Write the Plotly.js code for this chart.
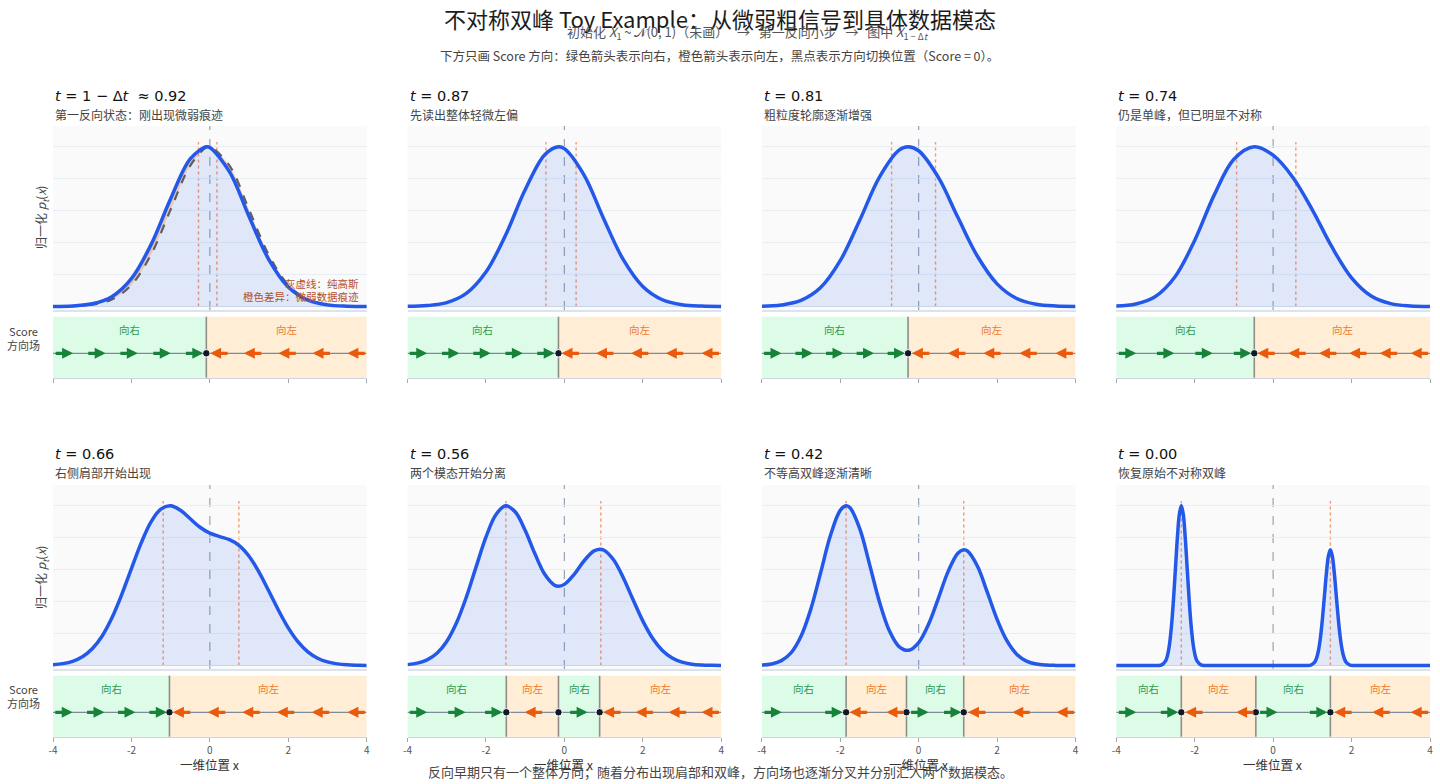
<!DOCTYPE html>
<html><head><meta charset="utf-8">
<script src="https://cdn.plot.ly/plotly-3.0.1.min.js"></script>
<style>html,body{margin:0;padding:0;background:#fff}#chart{width:1440px;height:784px}</style>
</head><body><div id="chart"></div>
<script>
// ---------- data ----------
const panelTitles = ['<i>t</i> = 1 − Δ<i>t</i>  ≈ 0.92','<i>t</i> = 0.87','<i>t</i> = 0.81','<i>t</i> = 0.74','<i>t</i> = 0.66','<i>t</i> = 0.56','<i>t</i> = 0.42','<i>t</i> = 0.00'];
const panelNotes = ['第一反向状态：刚出现微弱痕迹','先读出整体轻微左偏','粗粒度轮廓逐渐增强','仍是单峰，但已明显不对称','右侧肩部开始出现','两个模态开始分离','不等高双峰逐渐清晰','恢复原始不对称双峰'];

// normalized density p_t(x)
const x_092 = [-4,-3.5,-3,-2.5,-2,-1.5,-1,-0.5,-0.09,0,0.5,1,1.5,2,2.5,3,3.5,4];
const p_092 = [0.0006,0.0037,0.0170,0.0615,0.1742,0.3872,0.6750,0.9245,1.0,0.9957,0.8440,0.5631,0.2957,0.1221,0.0397,0.0101,0.0020,0.0003];
const gauss_092 = [0.0003,0.0022,0.0111,0.0439,0.1353,0.3247,0.6065,0.8825,0.9960,1.0,0.8825,0.6065,0.3247,0.1353,0.0439,0.0111,0.0022,0.0003];
const x_087 = [-4,-3.5,-3,-2.5,-2,-1.5,-1,-0.5,-0.15,0,0.5,1,1.5,2,2.5,3,3.5,4];
const p_087 = [0.0010,0.0056,0.0241,0.0816,0.2153,0.4461,0.7303,0.9504,1.0,0.9885,0.8241,0.5512,0.2947,0.1255,0.0423,0.0112,0.0023,0.0004];
const x_081 = [-4,-3.5,-3,-2.5,-2,-1.5,-1,-0.5,-0.27,0,0.5,1,1.5,2,2.5,3,3.5,4];
const p_081 = [0.0017,0.0092,0.0377,0.1183,0.2866,0.5413,0.8100,0.9788,1.0,0.9749,0.8095,0.5582,0.3144,0.1417,0.0502,0.0138,0.0029,0.0005];
const x_074 = [-4,-3.5,-3,-2.5,-2,-1.5,-1,-0.48,0,0.5,1,1.5,2,2.5,3,3.5,4];
const p_074 = [0.0030,0.0160,0.0631,0.1865,0.4138,0.6987,0.9222,1.0,0.9471,0.8095,0.6054,0.3725,0.1794,0.0658,0.0181,0.0037,0.0006];
const x_066 = [-4,-3.75,-3.5,-3.25,-3,-2.75,-2.5,-2.25,-2,-1.75,-1.5,-1.25,-1,-0.75,-0.5,-0.25,0,0.25,0.5,0.75,1,1.25,1.5,1.75,2,2.25,2.5,2.75,3,3.25,3.5,3.75,4];
const p_066 = [0.0047,0.0116,0.0263,0.0546,0.1044,0.1835,0.2970,0.4422,0.6067,0.7679,0.8992,0.9789,0.9995,0.9717,0.9185,0.8654,0.8282,0.8070,0.7875,0.7510,0.6843,0.5864,0.4680,0.3458,0.2357,0.1481,0.0856,0.0456,0.0223,0.0101,0.0042,0.0016,0.0006];
const x_056 = [-4,-3.75,-3.5,-3.25,-3,-2.75,-2.5,-2.25,-2,-1.75,-1.5,-1.25,-1,-0.75,-0.5,-0.25,-0.15,0,0.25,0.5,0.75,0.9,1,1.25,1.5,1.75,2,2.25,2.5,2.75,3,3.25,3.5,3.75,4];
const p_056 = [0.0054,0.0145,0.0351,0.0766,0.1507,0.2676,0.4281,0.6175,0.8034,0.9427,0.9997,0.9611,0.8462,0.6990,0.5712,0.5030,0.4963,0.5078,0.5704,0.6542,0.7161,0.7281,0.7231,0.6636,0.5510,0.4130,0.2791,0.1701,0.0935,0.0463,0.0207,0.0083,0.0030,0.0010,0.0003];
const x_042 = [-4,-3.75,-3.5,-3.25,-3,-2.75,-2.5,-2.25,-2,-1.85,-1.75,-1.5,-1.25,-1,-0.75,-0.5,-0.25,0,0.25,0.5,0.75,1,1.15,1.25,1.5,1.75,2,2.25,2.5,2.75,3,3.25,3.5,3.75,4];
const p_042 = [0.0026,0.0097,0.0303,0.0806,0.1828,0.3529,0.5805,0.8136,0.9712,1.0,0.9876,0.8553,0.6316,0.3984,0.2191,0.1185,0.0953,0.1436,0.2572,0.4191,0.5876,0.7024,0.7241,0.7155,0.6210,0.4590,0.2891,0.1550,0.0708,0.0276,0.0091,0.0026,0.0006,0.0001,0.0000];
const x_000 = [-4,-3.5,-3.1,-2.94,-2.84,-2.74,-2.69,-2.64,-2.59,-2.54,-2.49,-2.44,-2.39,-2.34,-2.29,-2.24,-2.19,-2.14,-2.09,-2.04,-1.99,-1.94,-1.84,-1.74,-1.5,-0.5,0.5,0.86,0.96,1.06,1.11,1.16,1.21,1.26,1.31,1.36,1.41,1.46,1.51,1.56,1.61,1.66,1.71,1.76,1.81,1.86,1.96,2.06,2.3,3,4];
const p_000 = [0,0,0,0.0003,0.0039,0.0286,0.0657,0.1353,0.2494,0.4111,0.6065,0.8007,0.9460,1.0,0.9460,0.8007,0.6065,0.4111,0.2494,0.1353,0.0657,0.0286,0.0039,0.0003,0,0,0,0.0002,0.0028,0.0207,0.0476,0.0980,0.1806,0.2977,0.4392,0.5798,0.6850,0.7241,0.6850,0.5798,0.4392,0.2977,0.1806,0.0980,0.0476,0.0207,0.0028,0.0002,0,0,0];

// scaled data-mode positions (orange dotted)
const modes_092 = [-0.29,0.18], modes_087 = [-0.47,0.30], modes_081 = [-0.69,0.43], modes_074 = [-0.93,0.58];
const modes_066 = [-1.19,0.74], modes_056 = [-1.49,0.93], modes_042 = [-1.85,1.15], modes_000 = [-2.34,1.46];

// score zero crossings
const zeros_092 = [-0.09], zeros_087 = [-0.15], zeros_081 = [-0.27], zeros_074 = [-0.48];
const zeros_066 = [-1.03], zeros_056 = [-1.48,-0.15,0.90], zeros_042 = [-1.85,-0.31,1.15], zeros_000 = [-2.34,-0.44,1.46];

// arrow centres (right = green, left = orange)
const right_092 = [-3.73,-2.90,-2.08,-1.24,-0.41], left_092 = [0.25,1.11,1.99,2.86,3.75];
const right_087 = [-3.74,-2.92,-2.12,-1.30,-0.49], left_087 = [0.17,1.05,1.94,2.83,3.74];
const right_081 = [-3.74,-2.94,-2.16,-1.38,-0.59], left_081 = [0.07,0.99,1.89,2.81,3.73];
const right_074 = [-3.73,-2.76,-1.78,-0.80], left_074 = [-0.16,0.63,1.41,2.18,2.96,3.75];
const right_066 = [-3.74,-2.93,-2.14,-1.34], left_066 = [-0.70,0.19,1.07,1.95,2.84,3.75];
const right_056 = [-3.74,-2.76,-1.82,0.35], left_056 = [-0.77,1.23,2.06,2.90,3.74];
const right_042 = [-3.73,-2.18,0.01,0.85], left_042 = [-1.52,-0.58,1.50,2.63,3.76];
const right_000 = [-3.73,-2.66,-0.13,1.14], left_000 = [-2.00,-0.70,1.80,2.77,3.75];

const tickVals = [-4,-2,0,2,4];
const tickText = ['-4','-2','0','2','4'];

// ---------- build ----------
const XS = [x_092,x_087,x_081,x_074,x_066,x_056,x_042,x_000];
const PS = [p_092,p_087,p_081,p_074,p_066,p_056,p_042,p_000];
const MODES = [modes_092,modes_087,modes_081,modes_074,modes_066,modes_056,modes_042,modes_000];
const ZEROS = [zeros_092,zeros_087,zeros_081,zeros_074,zeros_066,zeros_056,zeros_042,zeros_000];
const RIGHTS = [right_092,right_087,right_081,right_074,right_066,right_056,right_042,right_000];
const LEFTS = [left_092,left_087,left_081,left_074,left_066,left_056,left_042,left_000];

const W = 1440, H = 784;
const colPx = [[53,366.7],[407.5,721.2],[761.8,1075.5],[1116.2,1430]];
const densPx = [[126,310],[485,669]];
const scorePx = [[316.7,377.7],[675.7,736.7]];
const py = p => 1 - p / H;
const ARROW_Y = -0.2, HALF = 0.24;
const BLUE = '#2358e8', GREEN = '#17823a', ORANGE = '#ea5a0c';
const FONT = '"Noto Sans CJK SC", "Noto Sans", sans-serif';

const traces = [], shapes = [], annotations = [];
const layout = {
  width: W, height: H, autosize: false,
  margin: {l:0, r:0, t:0, b:0},
  paper_bgcolor: '#ffffff', plot_bgcolor: '#fafafa',
  showlegend: false,
  font: {family: FONT, color: '#333'},
  title: {text: '不对称双峰 Toy Example：从微弱粗信号到具体数据模态', x: 0.5, xanchor: 'center', xref: 'paper',
          y: py(20), yanchor: 'middle', yref: 'paper', font: {size: 22, color: '#1c1c1c', family: FONT}},
};

for (let i = 0; i < 8; i++) {
  const c = i % 4, r = Math.floor(i / 4);
  const dx = 'x' + (i + 1), dy = 'y' + (i + 1);
  const sx = 'x' + (i + 9), sy = 'y' + (i + 9);
  const dom = [colPx[c][0] / W, colPx[c][1] / W];
  layout['xaxis' + (i + 1)] = {domain: dom, anchor: dy, range: [-4, 4], showticklabels: false, ticks: '',
    showgrid: false, zeroline: false, showline: true, linecolor: '#dde3ec', linewidth: 1.5, fixedrange: true};
  layout['yaxis' + (i + 1)] = {domain: [py(densPx[r][1]), py(densPx[r][0])], anchor: dx, range: [-0.022, 1.13],
    tickvals: [0, 0.2, 0.4, 0.6, 0.8, 1.0], showticklabels: false, ticks: '', showgrid: true, gridcolor: '#e9edf4',
    zeroline: true, zerolinecolor: '#d3dbe8', zerolinewidth: 1.5, showline: false, fixedrange: true};
  layout['xaxis' + (i + 9)] = {domain: dom, anchor: sy, range: [-4, 4], tickvals: tickVals, ticktext: tickText,
    showticklabels: r === 1, ticks: 'outside', ticklen: 4, tickcolor: '#a8a8a8', tickwidth: 1,
    tickfont: {size: 10, color: '#555'}, showgrid: false, zeroline: false, showline: true, linecolor: '#cdd3dc', fixedrange: true};
  layout['yaxis' + (i + 9)] = {domain: [py(scorePx[r][1]), py(scorePx[r][0])], anchor: sx, range: [-1, 1],
    showticklabels: false, ticks: '', showgrid: false, zeroline: false, showline: false, fixedrange: true};

  // density fill
  traces.push({x: XS[i], y: PS[i], xaxis: dx, yaxis: dy, mode: 'lines', line: {shape: 'spline', width: 0, color: 'rgba(0,0,0,0)'},
    fill: 'tozeroy', fillcolor: 'rgba(37,99,235,0.12)', hoverinfo: 'skip'});
  if (i === 0) {
    traces.push({x: x_092, y: gauss_092, xaxis: dx, yaxis: dy, mode: 'lines',
      line: {shape: 'spline', width: 2.2, color: '#5f5f5f', dash: 'dash'},
      fill: 'tonexty', fillcolor: 'rgba(249,115,22,0.28)', hoverinfo: 'skip'});
  }
  traces.push({x: XS[i], y: PS[i], xaxis: dx, yaxis: dy, mode: 'lines', line: {shape: 'spline', width: 3.5, color: BLUE}, hoverinfo: 'skip'});

  // x=0 dashed reference
  shapes.push({type: 'line', xref: dx, yref: dy + ' domain', x0: 0, x1: 0, y0: 0, y1: 1, layer: 'below',
    line: {color: '#95a3b8', width: 1.2, dash: 'dash'}});
  MODES[i].forEach(m => shapes.push({type: 'line', xref: dx, yref: dy, x0: m, x1: m, y0: 0, y1: 1.03, layer: 'below',
    line: {color: 'rgba(244,120,60,0.75)', width: 1.4, dash: 'dot'}}));

  // score regions
  const b = [-4].concat(ZEROS[i], [4]);
  for (let k = 0; k < b.length - 1; k++) {
    const right = k % 2 === 0;
    shapes.push({type: 'rect', xref: sx, yref: sy + ' domain', x0: b[k], x1: b[k + 1], y0: 0, y1: 1, layer: 'below',
      line: {width: 0}, fillcolor: right ? '#dcfce7' : '#ffedd5'});
    annotations.push({xref: sx, yref: sy, x: (b[k] + b[k + 1]) / 2, y: 0.57, text: right ? '向右' : '向左', showarrow: false,
      font: {size: 10.5, color: right ? '#2f9a52' : '#f07a2c', family: FONT}});
  }
  shapes.push({type: 'line', xref: sx, yref: sy, x0: -4, x1: 4, y0: ARROW_Y, y1: ARROW_Y, layer: 'below',
    line: {color: '#7d8a9c', width: 1.2}});
  ZEROS[i].forEach(z => shapes.push({type: 'line', xref: sx, yref: sy + ' domain', x0: z, x1: z, y0: 0, y1: 1, layer: 'below',
    line: {color: '#8e8e86', width: 1.6}}));
  RIGHTS[i].forEach(cx => annotations.push({xref: sx, yref: sy, axref: sx, ayref: sy, x: cx + HALF, y: ARROW_Y, ax: cx - HALF, ay: ARROW_Y,
    text: '', showarrow: true, arrowhead: 2, arrowsize: 0.68, arrowwidth: 3.2, arrowcolor: GREEN, standoff: 0}));
  LEFTS[i].forEach(cx => annotations.push({xref: sx, yref: sy, axref: sx, ayref: sy, x: cx - HALF, y: ARROW_Y, ax: cx + HALF, ay: ARROW_Y,
    text: '', showarrow: true, arrowhead: 2, arrowsize: 0.68, arrowwidth: 3.2, arrowcolor: ORANGE, standoff: 0}));
  traces.push({x: ZEROS[i], y: ZEROS[i].map(() => ARROW_Y), xaxis: sx, yaxis: sy, mode: 'markers',
    marker: {size: 7.5, color: '#111827', line: {color: '#ffffff', width: 1}}, hoverinfo: 'skip'});

  // panel titles
  const tY = r === 0 ? 96 : 454;
  annotations.push({xref: 'paper', yref: 'paper', x: colPx[c][0] / W, y: py(tY), xanchor: 'left', yanchor: 'middle',
    text: panelTitles[i], showarrow: false, font: {size: 14.5, color: '#111', family: '"DejaVu Sans", sans-serif'}});
  annotations.push({xref: 'paper', yref: 'paper', x: colPx[c][0] / W, y: py(tY + 18), xanchor: 'left', yanchor: 'middle',
    text: panelNotes[i], showarrow: false, font: {size: 12, color: '#444', family: FONT}});
  if (r === 1) {
    annotations.push({xref: 'paper', yref: 'paper', x: (colPx[c][0] + colPx[c][1]) / 2 / W, y: py(764), xanchor: 'center', yanchor: 'middle',
      text: '一维位置 x', showarrow: false, font: {size: 12.5, color: '#333', family: FONT}});
  }
}

// row labels
[217.5, 577.5].forEach(yc => annotations.push({xref: 'paper', yref: 'paper', x: 41.5 / W, y: py(yc), xanchor: 'center', yanchor: 'middle',
  textangle: -90, text: '归一化 <i>p</i><sub><i>t</i></sub>(<i>x</i>)', showarrow: false, font: {size: 12, color: '#444', family: FONT}}));
[337.5, 696].forEach(yc => annotations.push({xref: 'paper', yref: 'paper', x: 23.5 / W, y: py(yc), xanchor: 'center', yanchor: 'middle',
  text: 'Score<br>方向场', showarrow: false, font: {size: 11, color: '#444', family: FONT}}));

// panel-1 notes
annotations.push({xref: 'x1', yref: 'y1', x: 3.85, y: 0.146, xanchor: 'right', yanchor: 'middle', text: '灰虚线：纯高斯', showarrow: false,
  font: {size: 10.5, color: '#b4502d', family: FONT}});
annotations.push({xref: 'x1', yref: 'y1', x: 3.85, y: 0.063, xanchor: 'right', yanchor: 'middle', text: '橙色差异：微弱数据痕迹', showarrow: false,
  font: {size: 10.5, color: '#b4502d', family: FONT}});

// header lines and footer
annotations.push({xref: 'paper', yref: 'paper', x: 748 / W, y: py(33), xanchor: 'center', yanchor: 'middle', showarrow: false,
  text: '初始化 <i>X</i><sub>1</sub> ~ 𝒩(0, 1)（未画）   →   第一反向小步   →   图中 <i>X</i><sub>1 − Δ<i>t</i></sub>',
  font: {size: 13, color: '#555', family: FONT}});
annotations.push({xref: 'paper', yref: 'paper', x: 719 / W, y: py(55), xanchor: 'center', yanchor: 'middle', showarrow: false,
  text: '下方只画 Score 方向：绿色箭头表示向右，橙色箭头表示向左，黑点表示方向切换位置（Score = 0）。',
  font: {size: 12.5, color: '#444', family: FONT}});
annotations.push({xref: 'paper', yref: 'paper', x: 720 / W, y: py(771.5), xanchor: 'center', yanchor: 'middle', showarrow: false,
  text: '反向早期只有一个整体方向；随着分布出现肩部和双峰，方向场也逐渐分叉并分别汇入两个数据模态。',
  font: {size: 13, color: '#444', family: FONT}});

layout.shapes = shapes;
layout.annotations = annotations;
Plotly.newPlot('chart', traces, layout, {displayModeBar: false, staticPlot: true});
</script>
</body></html>
